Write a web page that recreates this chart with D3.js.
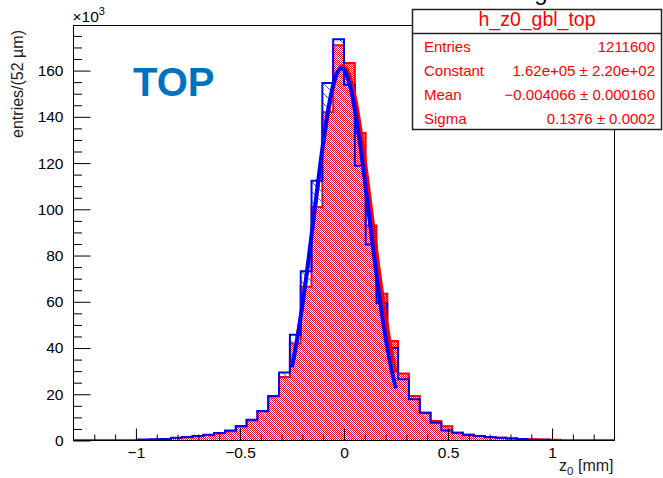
<!DOCTYPE html>
<html>
<head>
<meta charset="utf-8">
<script src="https://cdn.jsdelivr.net/npm/d3@7"></script>
<style>
  html, body { margin: 0; padding: 0; background: #fff; }
  svg { display: block; }
  text { font-family: "Liberation Sans", Arial, Helvetica, sans-serif; }
</style>
</head>
<body>
<svg id="chart" width="663" height="478"></svg>
<script>
// Histogram binning: 50 bins of 52 µm over [-1.3, 1.3] mm
const binLow = -1.3;
const binWidth = 0.052;

// Entries per bin (×10³), bins ordered from left to right
const redCounts = [
  0, 0, 0, 0, 0, 0, 0.2, 0.3, 0.4, 1.1,
  1.4, 1.8, 2.4, 3.1, 4.0, 6.0, 8.7, 12.5, 19.0, 27.5,
  42.0, 66.5, 101.0, 142.0, 171.0, 163.3, 133.0, 93.0, 63.5, 43.0,
  29.0, 19.2, 12.0, 8.4, 6.2, 3.4, 2.5, 2.0, 1.5, 1.2,
  1.0, 0.7, 0.5, 0.4, 0.3, 0, 0, 0, 0, 0
];
const blueCounts = [
  0, 0, 0, 0, 0, 0, 0.4, 0.5, 0.7, 1.2,
  1.5, 1.9, 2.5, 3.2, 4.3, 6.3, 9.0, 12.8, 19.3, 29.4,
  45.7, 73.2, 112.3, 154.6, 173.6, 153.9, 118.8, 84.8, 59.4, 40.0,
  26.5, 17.8, 12.0, 7.7, 4.3, 3.3, 2.5, 2.0, 1.5, 1.2,
  0.9, 0.6, 0.3, 0.3, 0, 0, 0, 0, 0, 0
];

// Gaussian fit parameters: [constant (×10³), mean (mm), sigma (mm)]
const redFit = [162, -0.004066, 0.1376];
const blueFit = [161, -0.012, 0.132];
const fitRange = [-0.25, 0.25];

// Axis ticks
const xMajorTicks = [-1, -0.5, 0, 0.5, 1];
const yMajorTicks = [0, 20, 40, 60, 80, 100, 120, 140, 160];

// Stats box
const statsTitle = "h_z0_gbl_top";
const statsLabels = ["Entries", "Constant", "Mean", "Sigma"];
const statsValues = ["1211600", "1.62e+05 \u00b1 2.20e+02", "\u22120.004066 \u00b1 0.000160", "0.1376 \u00b1 0.0002"];

const svg = d3.select("#chart");
const frame = { left: 73.5, right: 614.5, top: 25.5, bottom: 440.5 };

const x = d3.scaleLinear().domain([binLow, binLow + binWidth * redCounts.length]).range([frame.left, frame.right]);
const y = d3.scaleLinear().domain([0, 179.5]).range([frame.bottom, frame.top]);

const defs = svg.append("defs");
// fine red dot fill
const dots = defs.append("pattern").attr("id", "redDots")
  .attr("width", 2).attr("height", 2).attr("patternUnits", "userSpaceOnUse");
dots.append("rect").attr("width", 2).attr("height", 2).attr("fill", "#ffffff");
dots.append("rect").attr("width", 1).attr("height", 1).attr("fill", "#ff0000");
dots.append("rect").attr("x", 1).attr("y", 1).attr("width", 1).attr("height", 1).attr("fill", "#ff0000");
// blue diagonal hatch
const hatch = defs.append("pattern").attr("id", "blueHatch")
  .attr("width", 10).attr("height", 10).attr("patternUnits", "userSpaceOnUse");
hatch.append("path").attr("d", "M-1,-1 L11,11 M-1,9 L1,11 M9,-1 L11,1")
  .attr("stroke", "#4a5cff").attr("stroke-width", 1).attr("fill", "none");

defs.append("clipPath").attr("id", "plotClip")
  .append("rect").attr("x", frame.left).attr("y", frame.top)
  .attr("width", frame.right - frame.left).attr("height", frame.bottom - frame.top);

// step outline of a histogram
function stepPath(counts) {
  const p = d3.path();
  p.moveTo(x(binLow), y(0));
  counts.forEach((v, i) => {
    const lo = binLow + i * binWidth, hi = lo + binWidth;
    p.lineTo(x(lo), y(v));
    p.lineTo(x(hi), y(v));
  });
  p.lineTo(x(binLow + counts.length * binWidth), y(0));
  return p.toString();
}

const plot = svg.append("g").attr("clip-path", "url(#plotClip)");

// red histogram
plot.append("path").attr("d", stepPath(redCounts) + "Z").attr("fill", "url(#redDots)").attr("stroke", "none");
plot.append("path").attr("d", stepPath(redCounts)).attr("fill", "none").attr("stroke", "#ff0000").attr("stroke-width", 2);

// blue histogram
plot.append("path").attr("d", stepPath(blueCounts) + "Z").attr("fill", "url(#blueHatch)").attr("stroke", "none");
plot.append("path").attr("d", stepPath(blueCounts)).attr("fill", "none").attr("stroke", "#0000ff").attr("stroke-width", 2);

// fitted gaussians
function gauss(p) {
  return v => p[0] * Math.exp(-0.5 * Math.pow((v - p[1]) / p[2], 2));
}
const fitXs = d3.range(fitRange[0], fitRange[1] + 1e-9, 0.002);
const curve = d3.line().x(d => x(d[0])).y(d => y(d[1]));
[[redFit, "#ff0000", 3.5], [blueFit, "#0000ff", 4]].forEach(([p, col, w]) => {
  const g = gauss(p);
  plot.append("path").attr("d", curve(fitXs.map(v => [v, g(v)])))
    .attr("fill", "none").attr("stroke", col).attr("stroke-width", w)
    .attr("stroke-linejoin", "round");
});

// frame
svg.append("rect").attr("x", frame.left).attr("y", frame.top)
  .attr("width", frame.right - frame.left).attr("height", frame.bottom - frame.top)
  .attr("fill", "none").attr("stroke", "#000").attr("stroke-width", 1);

// y axis: major ticks with labels, minor ticks every 5
svg.append("g").attr("transform", `translate(${frame.left},0)`)
  .call(d3.axisLeft(y).tickValues(yMajorTicks).tickSizeInner(-17).tickSizeOuter(0).tickPadding(10).tickFormat(d3.format("d")));
const yMinor = d3.range(5, 180, 5).filter(v => v % 20 !== 0);
svg.append("g").attr("transform", `translate(${frame.left},0)`)
  .call(d3.axisLeft(y).tickValues(yMinor).tickSizeInner(-8.5).tickSizeOuter(0).tickFormat(""));

// x axis: major ticks with labels, minor ticks every 0.1
svg.append("g").attr("transform", `translate(0,${frame.bottom})`)
  .call(d3.axisBottom(x).tickValues(xMajorTicks).tickSizeInner(-12).tickSizeOuter(0).tickPadding(6).tickFormat(d3.format("")));
const xMinor = d3.range(-12, 13).map(v => v / 10).filter(v => Math.abs(v * 2 - Math.round(v * 2)) > 1e-6);
svg.append("g").attr("transform", `translate(0,${frame.bottom})`)
  .call(d3.axisBottom(x).tickValues(xMinor).tickSizeInner(-6).tickSizeOuter(0).tickFormat(""));

svg.selectAll(".domain").remove();
svg.selectAll(".tick line").attr("stroke", "#000");
svg.selectAll(".tick text").attr("font-size", 15.5).attr("fill", "#000")
  .attr("font-family", "'Liberation Sans', Arial, sans-serif");

// exponent marker
const expo = svg.append("text").attr("x", frame.left - 1).attr("y", 22).attr("font-size", 15.5).attr("fill", "#000");
expo.append("tspan").text("\u00d710");
expo.append("tspan").attr("dy", -7).attr("font-size", 11).text("3");

// axis titles
svg.append("text").attr("transform", "translate(23,30) rotate(-90)")
  .attr("text-anchor", "end").attr("font-size", 16).attr("fill", "#222")
  .text("entries/(52 \u00b5m)");
const xt = svg.append("text").attr("x", frame.right - 1).attr("y", 471)
  .attr("text-anchor", "end").attr("font-size", 16).attr("fill", "#222");
xt.append("tspan").text("z");
xt.append("tspan").attr("dy", 4).attr("font-size", 11.5).text("0");
xt.append("tspan").attr("dy", -4).text(" [mm]");

// detector half label
svg.append("text").attr("x", 133).attr("y", 96)
  .attr("font-family", "Lato, 'Open Sans', sans-serif").attr("font-weight", "bold")
  .attr("font-size", 40).attr("fill", "#0070c0").text("TOP");

// clipped title fragment above the stats box
svg.append("text").attr("x", 541).attr("y", 0).attr("text-anchor", "middle")
  .attr("font-size", 24).attr("fill", "#000").text("g");

// stats box
const box = { x: 412.5, y: 9.5, w: 249, h: 120, sep: 33.5 };
svg.append("rect").attr("x", box.x).attr("y", box.y).attr("width", box.w).attr("height", box.h)
  .attr("fill", "#fff").attr("stroke", "#222").attr("stroke-width", 1.5);
svg.append("line").attr("x1", box.x).attr("x2", box.x + box.w).attr("y1", box.sep).attr("y2", box.sep)
  .attr("stroke", "#222").attr("stroke-width", 1.5);
svg.append("text").attr("x", box.x + box.w / 2).attr("y", 26).attr("text-anchor", "middle")
  .attr("font-size", 19.5).attr("fill", "#ff0000").text(statsTitle);
statsLabels.forEach((lab, i) => {
  const yy = 51.5 + i * 24;
  svg.append("text").attr("x", 424).attr("y", yy).attr("font-size", 15).attr("fill", "#ff0000").text(lab);
  svg.append("text").attr("x", 655).attr("y", yy).attr("text-anchor", "end")
    .attr("font-size", 15).attr("fill", "#ff0000").text(statsValues[i]);
});
</script>
</body>
</html>
